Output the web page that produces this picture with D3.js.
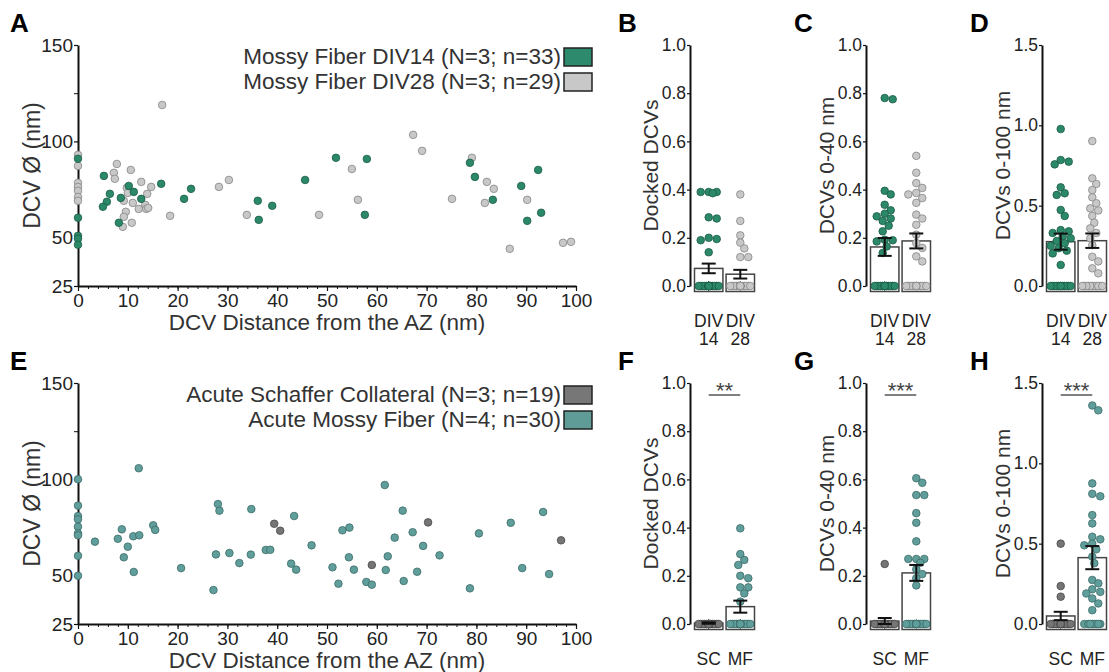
<!DOCTYPE html>
<html>
<head>
<meta charset="utf-8">
<script src="https://cdn.jsdelivr.net/npm/d3@7"></script>
<style>
    body { margin: 0; background: #fff; }
    svg { font-family: "Liberation Sans", Arial, sans-serif; }
    .axis path, .axis line { stroke: #111; }
    .axis text { fill: #222; }
</style>
</head>
<body>
<div id="fig"></div>
<script>
// ---- scatter data (A): distance from AZ (nm) and DCV diameter (nm)
const div14Dist = [0, 0, 0, 0, 0, 5.2, 6.4, 5.8, 5.0, 8.6, 10.2, 11.2, 12.7, 8.2, 16.7, 21.3, 22.7, 36.1, 39.0, 36.3, 45.6, 51.8, 58.0, 57.6, 78.7, 79.7, 83.3, 89.0, 92.4, 90.2, 93.0];
const div14Diam = [91, 60.4, 51, 49.5, 46.4, 82.1, 72.8, 68.7, 66.1, 70.7, 76.9, 73.8, 70.2, 57.8, 78, 70.2, 75.4, 69.2, 66.6, 59.3, 80, 91.5, 90.9, 61.9, 88.9, 81.6, 69.7, 76.9, 85.2, 58.8, 63];
const div28Dist = [0, 0, 0, 0, 0, 0, 0, 7.8, 7.2, 7.4, 10.6, 9.8, 12.7, 14.7, 13.9, 10.0, 9.2, 11.0, 9.6, 9.2, 9.0, 10.8, 12.2, 13.5, 13.7, 14.1, 16.9, 18.5, 28.3, 30.3, 33.9, 48.4, 55.0, 56.2, 67.3, 69.1, 79.1, 75.1, 82.1, 83.5, 81.7, 90.2, 86.7, 97.4, 99.0];
const div28Diam = [93, 87.3, 78.5, 76.4, 74.4, 71.2, 69.2, 88.3, 83.7, 80.6, 85.2, 75.9, 79, 76.4, 72.8, 73.3, 69.2, 68.1, 63.5, 60.9, 55.7, 57.8, 65, 67.1, 65, 65.5, 118.9, 61.4, 76.4, 80, 61.9, 61.9, 85.7, 69.7, 103.4, 95.1, 91.5, 70.2, 79, 75.4, 68.1, 69.7, 44.3, 47.4, 47.9];

// ---- scatter data (E)
const scDist = [39.4, 40.6, 70.3, 59.0, 97.0];
const scDiam = [77, 73.4, 77.7, 55.6, 68.4];
const mfDist = [0, 0, 0, 0, 0, 0, 0, 0, 0, 3.4, 8.0, 8.8, 10.0, 9.2, 11.1, 12.3, 11.2, 12.2, 15.1, 15.5, 20.7, 27.2, 27.7, 28.1, 28.4, 30.4, 32.4, 34.7, 34.8, 37.7, 38.6, 43.4, 42.8, 43.8, 46.9, 51.1, 52.3, 53.1, 54.5, 54.4, 55.4, 57.9, 59.0, 61.6, 63.6, 62.2, 61.8, 65.2, 65.4, 67.2, 69.3, 68.1, 72.6, 78.7, 80.5, 86.9, 89.2, 93.4, 94.6];
const mfDiam = [100.1, 86.4, 81, 79.3, 75.5, 72, 71, 60.4, 50, 67.7, 69.2, 74.1, 65.1, 59.6, 70.5, 71, 52, 105.8, 76.2, 73.8, 54, 42.6, 61.1, 87.2, 83.8, 61.8, 56.6, 61, 84.6, 63.4, 63.5, 81, 56.3, 53.2, 65.8, 54.4, 45.9, 73.6, 75, 59.6, 53.2, 46.8, 45.4, 97.1, 69.8, 60.1, 53, 83.8, 47.3, 72.6, 65.5, 52.1, 60.6, 43.5, 72, 77.5, 54, 83.1, 50.9];

// ---- dot/bar data: per-synapse values, bar means and SEM
const dockedDiv14 = [0.39, 0.39, 0.39, 0.385, 0.285, 0.28, 0.2, 0.195, 0.19, 0.14, 0, 0, 0, 0, 0, 0, 0, 0, 0, 0, 0, 0, 0, 0, 0, 0, 0, 0, 0, 0, 0, 0, 0];
const dockedDiv28 = [0.38, 0.27, 0.21, 0.18, 0.156, 0.12, 0.12, 0, 0, 0, 0, 0, 0, 0, 0, 0, 0, 0, 0, 0, 0, 0, 0, 0, 0, 0, 0, 0, 0];
const near40Div14 = [0.78, 0.775, 0.395, 0.38, 0.337, 0.314, 0.3, 0.289, 0.28, 0.27, 0.25, 0.227, 0.192, 0.19, 0.185, 0.164, 0.137, 0, 0, 0, 0, 0, 0, 0, 0, 0, 0, 0, 0, 0, 0, 0, 0];
const near40Div28 = [0.54, 0.47, 0.427, 0.407, 0.386, 0.38, 0.365, 0.345, 0.296, 0.28, 0.254, 0.213, 0.178, 0.158, 0.123, 0.102, 0, 0, 0, 0, 0, 0, 0, 0, 0, 0, 0, 0, 0];
const near100Div14 = [0.977, 0.784, 0.774, 0.757, 0.614, 0.577, 0.567, 0.473, 0.436, 0.348, 0.34, 0.33, 0.31, 0.297, 0.28, 0.266, 0.25, 0.235, 0.22, 0.203, 0.131, 0, 0, 0, 0, 0, 0, 0, 0, 0, 0, 0, 0];
const near100Div28 = [0.902, 0.67, 0.635, 0.597, 0.552, 0.515, 0.483, 0.47, 0.436, 0.394, 0.359, 0.33, 0.297, 0.255, 0.182, 0.153, 0.11, 0.079, 0, 0, 0, 0, 0, 0, 0, 0, 0, 0, 0];
const dockedSC = [0, 0, 0, 0, 0, 0, 0, 0, 0, 0, 0, 0, 0, 0, 0, 0, 0, 0, 0];
const dockedMF = [0.397, 0.29, 0.266, 0.245, 0.2, 0.19, 0.152, 0.152, 0.127, 0.093, 0, 0, 0, 0, 0, 0, 0, 0, 0, 0, 0, 0, 0, 0, 0, 0, 0, 0, 0, 0];
const near40SC = [0.249, 0, 0, 0, 0, 0, 0, 0, 0, 0, 0, 0, 0, 0, 0, 0, 0, 0, 0];
const near40MF = [0.605, 0.586, 0.535, 0.535, 0.46, 0.42, 0.343, 0.27, 0.27, 0.27, 0.254, 0.227, 0.207, 0.19, 0.16, 0, 0, 0, 0, 0, 0, 0, 0, 0, 0, 0, 0, 0, 0, 0];
const near100SC = [0.5, 0.236, 0.17, 0, 0, 0, 0, 0, 0, 0, 0, 0, 0, 0, 0, 0, 0, 0, 0];
const near100MF = [1.36, 1.33, 0.875, 0.81, 0.795, 0.678, 0.626, 0.543, 0.527, 0.5, 0.49, 0.465, 0.419, 0.378, 0.274, 0.253, 0.216, 0.2, 0.19, 0.159, 0.128, 0.086, 0, 0, 0, 0, 0, 0, 0, 0];

const barMeans = { B: [0.073, 0.049], C: [0.162, 0.187], D: [0.276, 0.282], F: [0.004, 0.072], G: [0.012, 0.212], H: [0.05, 0.413] };
const barSems  = { B: [0.02, 0.018],  C: [0.037, 0.031], D: [0.05, 0.045],  F: [0.003, 0.025], G: [0.013, 0.033], H: [0.026, 0.072] };

const divCats = ['DIV14', 'DIV28'];
const divLabels = [['DIV', '14'], ['DIV', '28']];
const acuteCats = ['SC', 'MF'];
const acuteLabels = [['SC'], ['MF']];
const ticks10 = [0, 0.2, 0.4, 0.6, 0.8, 1.0];
const ticks15 = [0, 0.5, 1.0, 1.5];

const COL = {
    div14: { fill: '#2b8869', stroke: '#1c5c47' },
    div28: { fill: '#c8c8c8', stroke: '#858585' },
    sc:    { fill: '#757575', stroke: '#474747' },
    mf:    { fill: '#5f9e9a', stroke: '#3c6b68' }
};

const svg = d3.select('#fig').append('svg')
    .attr('width', 1109)
    .attr('height', 672);

function panelLetter(x, y, t) {
    svg.append('text').attr('x', x).attr('y', y)
        .attr('font-size', 26).attr('font-weight', 'bold').attr('fill', '#000')
        .text(t);
}

class Scatter {
    constructor(_config) {
        this.config = _config;
        this.initVis();
    }

    initVis() {
        let vis = this;
        const c = vis.config;
        vis.width = 498;
        vis.height = 241;

        vis.xScale = d3.scaleLinear().domain([0, 100]).range([0, vis.width]);
        vis.yScale = d3.scaleLinear().domain([25, 150]).range([vis.height, 0]);

        vis.chart = svg.append('g')
            .attr('transform', `translate(${c.left},${c.top})`);

        // minor ticks
        vis.chart.append('g')
            .attr('transform', `translate(0,${vis.height})`)
            .call(d3.axisBottom(vis.xScale).tickValues(d3.range(0, 101, 2)).tickSize(3).tickFormat(''))
            .call(g => g.select('.domain').remove())
            .selectAll('line').attr('stroke', '#111');
        vis.chart.append('g')
            .call(d3.axisLeft(vis.yScale).tickValues([75, 125]).tickSize(4).tickFormat(''))
            .call(g => g.select('.domain').remove())
            .selectAll('line').attr('stroke', '#111');

        vis.xAxisG = vis.chart.append('g')
            .attr('class', 'axis')
            .attr('transform', `translate(0,${vis.height})`)
            .call(d3.axisBottom(vis.xScale).tickValues(d3.range(0, 101, 10)).tickSize(5).tickSizeOuter(0).tickPadding(3));
        vis.yAxisG = vis.chart.append('g')
            .attr('class', 'axis')
            .call(d3.axisLeft(vis.yScale).tickValues([25, 50, 100, 150]).tickSize(4).tickSizeOuter(0).tickPadding(1));

        [vis.xAxisG, vis.yAxisG].forEach(g => {
            g.select('.domain').attr('stroke-width', 2);
            g.selectAll('line').attr('stroke-width', 1.2);
            g.selectAll('text').attr('font-size', 19);
        });

        vis.chart.append('text')
            .attr('transform', `translate(${-46},${vis.height / 2}) rotate(-90)`)
            .attr('text-anchor', 'middle').attr('dy', '0.35em')
            .attr('font-size', 23).attr('fill', '#333')
            .text('DCV \u00D8 (nm)');

        vis.chart.append('text')
            .attr('x', vis.width / 2).attr('y', vis.height + 44)
            .attr('text-anchor', 'middle')
            .attr('font-size', 22.5).attr('fill', '#333')
            .text('DCV Distance from the AZ (nm)');

        // legend
        c.legend.forEach((l, i) => {
            vis.chart.append('text')
                .attr('x', 483).attr('y', c.legendY + 25 * i + 16)
                .attr('text-anchor', 'end')
                .attr('font-size', 22.5).attr('fill', '#333')
                .text(l.label);
            vis.chart.append('rect')
                .attr('x', 486).attr('y', c.legendY + 25 * i)
                .attr('width', 28).attr('height', 18)
                .attr('fill', l.fill).attr('stroke', '#222').attr('stroke-width', 1.5);
        });

        vis.renderVis();
    }

    renderVis() {
        let vis = this;
        vis.config.series.forEach(s => {
            const pts = s.dist.map((d, i) => ({ d: d, v: s.diam[i] }));
            vis.chart.append('g').selectAll('circle')
                .data(pts)
                .join('circle')
                .attr('cx', p => vis.xScale(p.d))
                .attr('cy', p => vis.yScale(p.v))
                .attr('r', 3.8)
                .attr('fill', s.color.fill)
                .attr('stroke', s.color.stroke)
                .attr('stroke-width', 0.8);
        });
    }
}

// deterministic swarm so dots with equal values spread across the bar
function swarm(values, cx, yScale, r, maxOff) {
    const placed = [];
    const order = values.map((v, i) => ({ v, i })).sort((a, b) => b.v - a.v);
    const minGap = 2 * r * 0.9;
    order.forEach(o => {
        const py = yScale(o.v);
        let best = 0, bestScore = -1;
        for (let k = 0; k * 2 <= maxOff; k++) {
            const cand = k === 0 ? [0] : [k * 2, -k * 2];
            let found = false;
            for (const off of cand) {
                let md = Infinity;
                placed.forEach(p => {
                    md = Math.min(md, Math.hypot(p.x - (cx + off), p.y - py));
                });
                if (md >= minGap) { best = off; found = true; break; }
                if (md > bestScore) { bestScore = md; best = off; }
            }
            if (found) break;
        }
        placed.push({ x: cx + best, y: py, v: o.v });
    });
    return placed;
}

class DotBar {
    constructor(_config) {
        this.config = _config;
        this.initVis();
    }

    initVis() {
        let vis = this;
        const c = vis.config;
        vis.height = 241;
        vis.base = c.top + vis.height;

        vis.yScale = d3.scaleLinear().domain([0, c.max]).range([vis.base, c.top]);
        vis.xScale = d3.scaleBand().domain(c.cats)
            .range([c.axisX + 4.5, c.axisX + 64.5])
            .paddingInner(0.1).paddingOuter(0);

        vis.g = svg.append('g');

        vis.yAxisG = vis.g.append('g')
            .attr('class', 'axis')
            .attr('transform', `translate(${c.axisX},0)`)
            .call(d3.axisLeft(vis.yScale).tickValues(c.ticks).tickSize(3).tickSizeOuter(0)
                .tickPadding(1).tickFormat(d3.format('.1f')));
        vis.yAxisG.select('.domain').attr('stroke-width', 2);
        vis.yAxisG.selectAll('line').attr('stroke-width', 1.2);
        vis.yAxisG.selectAll('text').attr('font-size', 17.5);

        vis.g.append('text')
            .attr('transform', `translate(${c.axisX - 39},${c.top + vis.height / 2}) rotate(-90)`)
            .attr('text-anchor', 'middle').attr('dy', '0.35em')
            .attr('font-size', 21).attr('fill', '#333')
            .text(c.title);

        c.labels.forEach((lines, i) => {
            const cx = vis.xScale(c.cats[i]) + vis.xScale.bandwidth() / 2;
            lines.forEach((t, j) => {
                vis.g.append('text')
                    .attr('x', cx).attr('y', vis.base + 41 + 18 * j)
                    .attr('text-anchor', 'middle')
                    .attr('font-size', 17.5).attr('fill', '#222')
                    .text(t);
            });
        });

        panelLetter(c.axisX - 72, c.top - 13, c.letter);

        if (c.sig) {
            const x1 = vis.xScale(c.cats[0]) + vis.xScale.bandwidth() / 2;
            const x2 = vis.xScale(c.cats[1]) + vis.xScale.bandwidth() / 2;
            vis.g.append('line')
                .attr('x1', x1).attr('x2', x2)
                .attr('y1', c.top + 12).attr('y2', c.top + 12)
                .attr('stroke', '#555').attr('stroke-width', 1.5);
            vis.g.append('text')
                .attr('x', (x1 + x2) / 2).attr('y', c.top + 15)
                .attr('text-anchor', 'middle')
                .attr('font-size', 22).attr('fill', '#444')
                .text(c.sig);
        }

        vis.renderVis();
    }

    renderVis() {
        let vis = this;
        const c = vis.config;
        const bw = vis.xScale.bandwidth();

        c.groups.forEach((grp, i) => {
            const x0 = vis.xScale(c.cats[i]);
            const cx = x0 + bw / 2;
            const mean = c.means[i], sem = c.sems[i];

            vis.g.append('rect')
                .attr('x', x0).attr('width', bw)
                .attr('y', vis.yScale(mean))
                .attr('height', vis.base + 5.5 - vis.yScale(mean))
                .attr('fill', '#fff').attr('stroke', '#444').attr('stroke-width', 1.5);

            const pts = swarm(grp.values, cx, vis.yScale, 3.8, bw / 2 - 4);
            vis.g.append('g').selectAll('circle')
                .data(pts)
                .join('circle')
                .attr('cx', p => p.x)
                .attr('cy', p => p.y)
                .attr('r', 3.8)
                .attr('fill', grp.color.fill)
                .attr('stroke', grp.color.stroke)
                .attr('stroke-width', 0.8);

            const eg = vis.g.append('g').attr('stroke', '#111').attr('stroke-width', 2);
            eg.append('line').attr('x1', cx).attr('x2', cx)
                .attr('y1', vis.yScale(Math.max(0, mean - sem))).attr('y2', vis.yScale(mean + sem));
            [mean - sem, mean + sem].forEach(v => {
                eg.append('line').attr('x1', cx - 7).attr('x2', cx + 7)
                    .attr('y1', vis.yScale(Math.max(0, v))).attr('y2', vis.yScale(Math.max(0, v)));
            });
        });
    }
}

// ---- panels
panelLetter(10, 32, 'A');
new Scatter({
    left: 78, top: 45, legendY: 3,
    legend: [
        { label: 'Mossy Fiber DIV14 (N=3; n=33)', fill: '#2e8a6c' },
        { label: 'Mossy Fiber DIV28 (N=3; n=29)', fill: '#c8c8c8' }
    ],
    series: [
        { dist: div28Dist, diam: div28Diam, color: COL.div28 },
        { dist: div14Dist, diam: div14Diam, color: COL.div14 }
    ]
});

panelLetter(10, 370, 'E');
new Scatter({
    left: 78, top: 383, legendY: 3,
    legend: [
        { label: 'Acute Schaffer Collateral (N=3; n=19)', fill: '#777777' },
        { label: 'Acute Mossy Fiber (N=4; n=30)', fill: '#5f9c98' }
    ],
    series: [
        { dist: mfDist, diam: mfDiam, color: COL.mf },
        { dist: scDist, diam: scDiam, color: COL.sc }
    ]
});

const topRow = [
    { letter: 'B', axisX: 690, max: 1.0, ticks: ticks10, title: 'Docked DCVs', g: [dockedDiv14, dockedDiv28] },
    { letter: 'C', axisX: 866, max: 1.0, ticks: ticks10, title: 'DCVs 0-40 nm', g: [near40Div14, near40Div28] },
    { letter: 'D', axisX: 1042, max: 1.5, ticks: ticks15, title: 'DCVs 0-100 nm', g: [near100Div14, near100Div28] }
];
topRow.forEach(p => new DotBar({
    letter: p.letter, axisX: p.axisX, top: 45, max: p.max, ticks: p.ticks, title: p.title,
    cats: divCats, labels: divLabels,
    means: barMeans[p.letter], sems: barSems[p.letter],
    groups: [{ values: p.g[0], color: COL.div14 }, { values: p.g[1], color: COL.div28 }]
}));

const bottomRow = [
    { letter: 'F', axisX: 690, max: 1.0, ticks: ticks10, title: 'Docked DCVs', sig: '**', g: [dockedSC, dockedMF] },
    { letter: 'G', axisX: 866, max: 1.0, ticks: ticks10, title: 'DCVs 0-40 nm', sig: '***', g: [near40SC, near40MF] },
    { letter: 'H', axisX: 1042, max: 1.5, ticks: ticks15, title: 'DCVs 0-100 nm', sig: '***', g: [near100SC, near100MF] }
];
bottomRow.forEach(p => new DotBar({
    letter: p.letter, axisX: p.axisX, top: 383, max: p.max, ticks: p.ticks, title: p.title, sig: p.sig,
    cats: acuteCats, labels: acuteLabels,
    means: barMeans[p.letter], sems: barSems[p.letter],
    groups: [{ values: p.g[0], color: COL.sc }, { values: p.g[1], color: COL.mf }]
}));
</script>
</body>
</html>
